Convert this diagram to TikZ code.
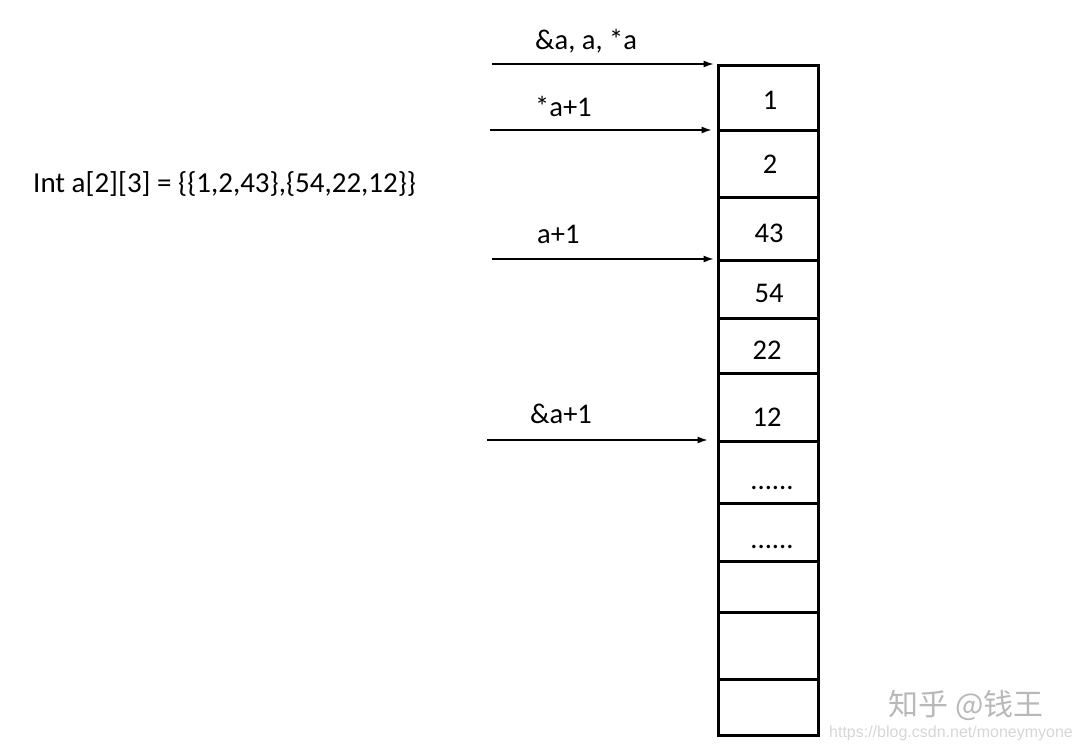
\documentclass[tikz,border=0pt]{standalone}
\usepackage{fontspec}
\setmainfont{Carlito}
\newfontfamily\cjk{Noto Sans CJK SC}
\newfontfamily\wmsans{Liberation Sans}
\usetikzlibrary{arrows.meta}
\tikzset{
  cell/.style={draw, line width=3pt, minimum width=100pt, inner sep=0pt, anchor=north},
  val/.style={font=\fontsize{28.5}{32}\selectfont, inner sep=0pt, anchor=base},
  lab/.style={font=\fontsize{28.5}{32}\selectfont, inner sep=0pt, anchor=base west},
  arr/.style={line width=1.2pt, -{Latex[length=10pt,width=7pt]}},
}
\begin{document}
\begin{tikzpicture}[x=1pt,y=-1pt]
\useasboundingbox (0,0) rectangle (1080,750);
% cells
\node[cell, minimum height=65pt] (c1) at (768,64) {};
\node[cell, minimum height=67pt] (c2) at (768,129) {};
\node[cell, minimum height=63pt] (c3) at (768,196) {};
\node[cell, minimum height=58pt] (c4) at (768,259) {};
\node[cell, minimum height=55pt] (c5) at (768,317) {};
\node[cell, minimum height=68pt] (c6) at (768,372) {};
\node[cell, minimum height=62pt] (c7) at (768,440) {};
\node[cell, minimum height=58pt] (c8) at (768,502) {};
\node[cell, minimum height=51pt] (c9) at (768,560) {};
\node[cell, minimum height=67pt] (c10) at (768,611) {};
\node[cell, minimum height=56pt] (c11) at (768,678) {};
% values
\node[val] (v1) at (770,109) {1};
\node[val] (v2) at (770,173) {2};
\node[val] (v3) at (769,242) {43};
\node[val] (v4) at (769,302) {54};
\node[val] (v5) at (767,359) {22};
\node[val] (v6) at (767,426) {12};
\node[val] (v7) at (772,489) {......};
\node[val] (v8) at (772,548) {......};
% left text
\node[lab, font=\fontsize{29}{32}\selectfont] (decl) at (33,192) {Int a[2][3] = \{\{1,2,43\},\{54,22,12\}\}};
% arrow labels
\node[lab] (l1) at (535,49) {\&a, a, *a};
\node[lab] (l2) at (535,116) {*a+1};
\node[lab] (l3) at (537,243) {a+1};
\node[lab] (l4) at (530,423) {\&a+1};
% arrow starts
\coordinate (s1) at (492,64);
\coordinate (s2) at (490,130);
\coordinate (s3) at (492,259);
\coordinate (s4) at (487,440);
\draw[arr] (s1) -- ([xshift=-3pt]c1.north west);
\draw[arr] (s2) -- ([xshift=-5pt,yshift=-1pt]c2.north west);
\draw[arr] (s3) -- ([xshift=-3pt]c4.north west);
\draw[arr] (s4) -- ([xshift=-9pt]c7.north west);
% watermark
\node[font=\cjk\fontsize{30}{32}\selectfont, text=black!28, inner sep=0pt] (wm1) at (966,705) {知乎 @钱王};
\node[font=\wmsans\fontsize{16}{18}\selectfont, text=black!16, inner sep=0pt] (wm2) at (951,733) {https://blog.csdn.net/moneymyone};
\end{tikzpicture}
\end{document}
